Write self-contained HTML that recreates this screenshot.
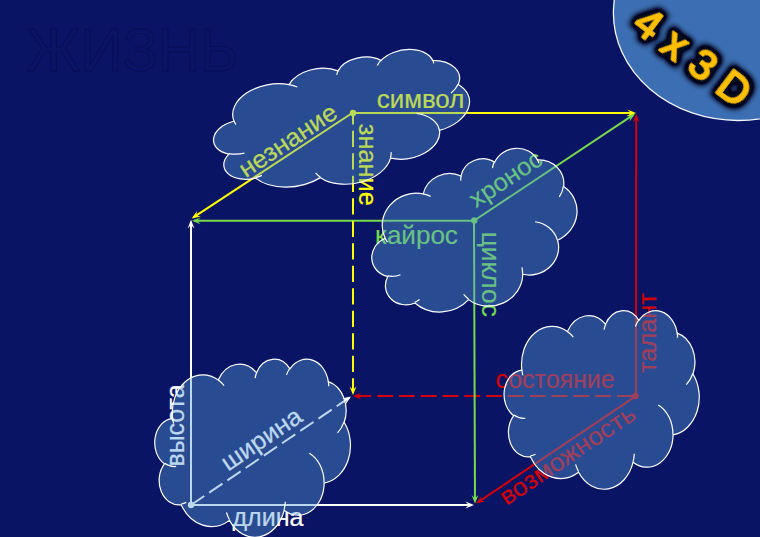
<!DOCTYPE html><html lang="ru"><head><meta charset="utf-8"><title>4 x 3 D</title>
<style>html,body{margin:0;padding:0;background:#0a1464;overflow:hidden}svg{display:block}text{font-family:'Liberation Sans', 'DejaVu Sans', sans-serif}</style></head><body>
<svg width="760" height="537" viewBox="0 0 760 537">
<rect width="760" height="537" fill="#0a1464"/>
<text transform="translate(26.4,71.1) scale(0.9511,1)" font-size="61.5" fill="#0a1464" stroke="#070e54" stroke-width="0.9">ЖИЗНЬ</text>
<g id="lines">
<line x1="636.0" y1="396.0" x2="636.2" y2="115.8" stroke="#d20008" stroke-width="2"/><polygon points="636.2,113.8 639.6,122.4 636.2,119.1 632.8,122.4" fill="#d20008"/>
<line x1="635.5" y1="396.0" x2="354.8" y2="396.1" stroke="#d20008" stroke-width="2" stroke-dasharray="16 5.8" stroke-dashoffset="19.2"/><polygon points="352.8,396.1 361.4,392.7 358.1,396.1 361.4,399.5" fill="#d20008"/>
<line x1="635.5" y1="396.4" x2="477.7" y2="502.4" stroke="#d20008" stroke-width="2"/><polygon points="476.0,503.5 481.2,495.9 480.4,500.5 485.0,501.5" fill="#d20008"/>
<line x1="191.0" y1="505.0" x2="191.0" y2="221.8" stroke="#ffffff" stroke-width="2"/><polygon points="191.0,219.8 194.4,228.4 191.0,225.1 187.6,228.4" fill="#ffffff"/>
<line x1="191.0" y1="505.0" x2="472.0" y2="505.0" stroke="#ffffff" stroke-width="2"/><polygon points="474.0,505.0 465.4,508.4 468.7,505.0 465.4,501.6" fill="#ffffff"/>
<line x1="191.0" y1="505.0" x2="349.3" y2="397.7" stroke="#ffffff" stroke-width="2" stroke-dasharray="16 6" stroke-dashoffset="0"/><polygon points="351.0,396.6 345.8,404.2 346.6,399.6 342.0,398.6" fill="#ffffff"/>
<line x1="474.3" y1="220.8" x2="194.0" y2="220.8" stroke="#76da4c" stroke-width="2"/><polygon points="192.0,220.8 200.6,217.4 197.3,220.8 200.6,224.2" fill="#76da4c"/>
<line x1="474.3" y1="220.5" x2="633.3" y2="114.9" stroke="#76da4c" stroke-width="2"/><polygon points="635.0,113.8 629.7,121.4 630.6,116.7 626.0,115.7" fill="#76da4c"/>
<line x1="474.0" y1="220.5" x2="475.0" y2="501.5" stroke="#76da4c" stroke-width="2"/><polygon points="475.0,503.5 471.6,494.9 475.0,498.2 478.4,494.9" fill="#76da4c"/>
<line x1="353.0" y1="113.0" x2="634.0" y2="113.0" stroke="#ffff00" stroke-width="2"/><polygon points="636.0,113.0 627.4,116.4 630.7,113.0 627.4,109.6" fill="#ffff00"/>
<line x1="353.0" y1="112.5" x2="193.4" y2="217.4" stroke="#ffff00" stroke-width="2"/><polygon points="191.7,218.5 197.0,210.9 196.2,215.6 200.8,216.6" fill="#ffff00"/>
<line x1="353.0" y1="113.0" x2="353.0" y2="393.0" stroke="#ffff00" stroke-width="2" stroke-dasharray="16.4 6.1" stroke-dashoffset="4.8"/><polygon points="353.0,395.0 349.6,386.4 353.0,389.7 356.4,386.4" fill="#ffff00"/>
<circle cx="353" cy="113" r="3.2" fill="#ffff00"/>
<circle cx="474.3" cy="220.5" r="3.2" fill="#76da4c"/>
<circle cx="191" cy="505" r="3.2" fill="#ffffff"/>
<circle cx="635.5" cy="396" r="3.2" fill="#d20008"/>
</g>
<g id="labels">
<text transform="translate(420.5,107.8) rotate(0) scale(1.0343,1)" text-anchor="middle" font-size="25" fill="#ffff00" stroke="#ffff00" stroke-width="0.2">символ</text>
<text transform="translate(292.5,147.5) rotate(-33.4) scale(1.0369,1)" text-anchor="middle" font-size="25" fill="#ffff00" stroke="#ffff00" stroke-width="0.2">незнание</text>
<text transform="translate(359.3,164.8) rotate(90) scale(1.0142,1)" text-anchor="middle" font-size="25" fill="#ffff00" stroke="#ffff00" stroke-width="0.2">знание</text>
<text transform="translate(416.4,243.7) rotate(0) scale(1.0419,1)" text-anchor="middle" font-size="25" fill="#76da4c" stroke="#76da4c" stroke-width="0.2">кайрос</text>
<text transform="translate(510.2,185.8) rotate(-33.5) scale(1.0184,1)" text-anchor="middle" font-size="25" fill="#76da4c" stroke="#76da4c" stroke-width="0.2">хронос</text>
<text transform="translate(482,274.3) rotate(90) scale(1.0523,1)" text-anchor="middle" font-size="25" fill="#76da4c" stroke="#76da4c" stroke-width="0.2">циклос</text>
<text transform="translate(555,387.5) rotate(0) scale(0.9960,1)" text-anchor="middle" font-size="25" fill="#d20008" stroke="#d20008" stroke-width="0.2">состояние</text>
<text transform="translate(656.4,333) rotate(-90) scale(1.0149,1)" text-anchor="middle" font-size="25" fill="#d20008" stroke="#d20008" stroke-width="0.2">талант</text>
<text transform="translate(572,462) rotate(-33.9) scale(1.0512,1)" text-anchor="middle" font-size="25" fill="#d20008" stroke="#d20008" stroke-width="0.2">возможность</text>
<text transform="translate(183.6,425.5) rotate(-90) scale(0.9944,1)" text-anchor="middle" font-size="25" fill="#ffffff" stroke="#ffffff" stroke-width="0.2">высота</text>
<text transform="translate(266,446) rotate(-34.1) scale(1.0268,1)" text-anchor="middle" font-size="25" fill="#ffffff" stroke="#ffffff" stroke-width="0.2">ширина</text>
<text transform="translate(268,526) rotate(0) scale(1.0021,1)" text-anchor="middle" font-size="25" fill="#ffffff" stroke="#ffffff" stroke-width="0.2">длина</text>
</g>
<g id="clouds" fill="#549dd8" fill-opacity="0.4" stroke="#ffffff" stroke-width="1.2">
<g transform="translate(341.9,122.7) rotate(-10) translate(-129.4,-61.5)"><path d="M23.37 40.95A40.47 26.19 0 0 1 41.03 15.63A40.47 26.19 0 0 1 83.93 14.82A31.96 20.71 0 0 1 107.3 4.07A31.96 20.71 0 0 1 134.58 9.78A26.16 16.94 0 0 1 155.52 0.48A26.16 16.94 0 0 1 178.79 7.07A29.11 18.79 0 0 1 208.55 1.07A29.11 18.79 0 0 1 229.64 15.89A31.96 20.72 0 0 1 250.03 26.87A31.96 20.72 0 0 1 250.62 44.05A40.6 26.27 0 0 1 256.02 69.97A40.6 26.27 0 0 1 224.17 86.06A34.67 22.42 0 0 1 206.19 105.53A34.67 22.42 0 0 1 171.14 104.9A40.47 26.26 0 0 1 138.36 123.26A40.47 26.26 0 0 1 98.77 111.88A46.27 30.04 0 0 1 63.28 115.21A46.27 30.04 0 0 1 34.79 101.07A26.13 16.86 0 0 1 8.42 91.93A26.13 16.86 0 0 1 12.67 72.8A26.04 16.94 0 0 1 0.38 54.59A26.04 16.94 0 0 1 23.15 41.33Z"/><path d="M28.13 74.59A26.04 16.94 0 0 1 12.94 72.32M41.52 99.45A26.13 16.86 0 0 1 34.88 100.53M98.75 111.39A40.47 26.26 0 0 1 94.75 106.43M172.76 99.02A40.47 26.26 0 0 1 171.16 104.46M204.54 65.41A34.67 22.42 0 0 1 224.02 85.74M250.5 43.75A31.96 20.72 0 0 1 241.82 51.38M229.68 15.46A29.11 18.79 0 0 1 230.14 19.06M174.27 11.26A29.11 18.79 0 0 1 178.71 6.67M132.69 13.45A26.16 16.94 0 0 1 134.85 9.49M83.9 14.79A40.47 26.19 0 0 1 91.69 18.64M24.73 44.99A40.47 26.19 0 0 1 23.37 40.95" fill="none"/></g>
<g transform="translate(475.0,235.5) rotate(-17.2) translate(-105.8,-72.5)"><path d="M19.11 48.27A33.09 30.87 0 0 1 33.55 18.42A33.09 30.87 0 0 1 68.63 17.47A26.13 24.41 0 0 1 87.74 4.8A26.13 24.41 0 0 1 110.04 11.53A21.39 19.97 0 0 1 127.17 0.56A21.39 19.97 0 0 1 146.2 8.33A23.8 22.15 0 0 1 170.53 1.26A23.8 22.15 0 0 1 187.78 18.73A26.13 24.43 0 0 1 204.44 31.67A26.13 24.43 0 0 1 204.93 51.93A33.2 30.97 0 0 1 209.35 82.47A33.2 30.97 0 0 1 183.3 101.45A28.35 26.42 0 0 1 168.6 124.39A28.35 26.42 0 0 1 139.94 123.65A33.09 30.95 0 0 1 113.14 145.29A33.09 30.95 0 0 1 80.76 131.88A37.83 35.41 0 0 1 51.74 135.8A37.83 35.41 0 0 1 28.45 119.14A21.37 19.88 0 0 1 6.88 108.36A21.37 19.88 0 0 1 10.36 85.81A21.29 19.97 0 0 1 0.31 64.35A21.29 19.97 0 0 1 18.93 48.72Z"/><path d="M23 87.92A21.29 19.97 0 0 1 10.58 85.25M33.95 117.22A21.37 19.88 0 0 1 28.52 118.5M80.75 131.3A33.09 30.95 0 0 1 77.48 125.45M141.27 116.72A33.09 30.95 0 0 1 139.96 123.13M167.25 77.1A28.35 26.42 0 0 1 183.18 101.06M204.83 51.57A26.13 24.43 0 0 1 197.73 60.56M187.81 18.22A23.8 22.15 0 0 1 188.18 22.47M142.5 13.27A23.8 22.15 0 0 1 146.13 7.86M108.5 15.85A21.39 19.97 0 0 1 110.26 11.19M68.61 17.44A33.09 30.87 0 0 1 74.98 21.97M20.22 53.03A33.09 30.87 0 0 1 19.11 48.27" fill="none"/></g>
<g transform="translate(601.7,399.3) rotate(0) translate(-97.5,-89.2)"><path d="M17.6 59.38A30.48 37.97 0 0 1 30.9 22.66A30.48 37.97 0 0 1 63.22 21.49A24.07 30.03 0 0 1 80.82 5.9A24.07 30.03 0 0 1 101.36 14.18A19.7 24.56 0 0 1 117.14 0.69A19.7 24.56 0 0 1 134.66 10.25A21.92 27.25 0 0 1 157.07 1.55A21.92 27.25 0 0 1 172.96 23.04A24.07 30.05 0 0 1 188.32 38.97A24.07 30.05 0 0 1 188.76 63.88A30.58 38.1 0 0 1 192.83 101.46A30.58 38.1 0 0 1 168.84 124.8A26.11 32.51 0 0 1 155.3 153.03A26.11 32.51 0 0 1 128.9 152.11A30.48 38.08 0 0 1 104.21 178.74A30.48 38.08 0 0 1 74.39 162.24A34.85 43.56 0 0 1 47.66 167.06A34.85 43.56 0 0 1 26.2 146.56A19.68 24.45 0 0 1 6.34 133.3A19.68 24.45 0 0 1 9.54 105.56A19.61 24.56 0 0 1 0.28 79.16A19.61 24.56 0 0 1 17.44 59.93Z"/><path d="M21.18 108.16A19.61 24.56 0 0 1 9.75 104.87M31.27 144.2A19.68 24.45 0 0 1 26.27 145.78M74.38 161.52A30.48 38.08 0 0 1 71.37 154.33M130.12 143.59A30.48 38.08 0 0 1 128.92 151.48M154.05 94.84A26.11 32.51 0 0 1 168.73 124.33M188.67 63.44A24.07 30.05 0 0 1 182.14 74.5M172.99 22.42A21.92 27.25 0 0 1 173.34 27.64M131.25 16.33A21.92 27.25 0 0 1 134.6 9.67M99.94 19.5A19.7 24.56 0 0 1 101.56 13.76M63.19 21.45A30.48 37.97 0 0 1 69.06 27.02M18.63 65.24A30.48 37.97 0 0 1 17.6 59.38" fill="none"/></g>
<g transform="translate(252.7,447.6) rotate(0) translate(-97.8,-89.0)"><path d="M17.65 59.21A30.56 37.87 0 0 1 30.98 22.6A30.56 37.87 0 0 1 63.38 21.43A24.13 29.94 0 0 1 81.03 5.89A24.13 29.94 0 0 1 101.62 14.14A19.75 24.5 0 0 1 117.44 0.69A19.75 24.5 0 0 1 135.01 10.22A21.98 27.17 0 0 1 157.48 1.55A21.98 27.17 0 0 1 173.41 22.98A24.13 29.97 0 0 1 188.8 38.86A24.13 29.97 0 0 1 189.25 63.7A30.66 37.99 0 0 1 193.33 101.17A30.66 37.99 0 0 1 169.27 124.45A26.18 32.41 0 0 1 155.7 152.6A26.18 32.41 0 0 1 129.23 151.68A30.56 37.97 0 0 1 104.48 178.24A30.56 37.97 0 0 1 74.58 161.78A34.94 43.44 0 0 1 47.78 166.59A34.94 43.44 0 0 1 26.27 146.15A19.73 24.38 0 0 1 6.36 132.92A19.73 24.38 0 0 1 9.56 105.27A19.66 24.5 0 0 1 0.28 78.94A19.66 24.5 0 0 1 17.48 59.76Z"/><path d="M21.24 107.86A19.66 24.5 0 0 1 9.77 104.57M31.35 143.8A19.73 24.38 0 0 1 26.34 145.37M74.57 161.07A30.56 37.97 0 0 1 71.55 153.9M130.46 143.19A30.56 37.97 0 0 1 129.25 151.05M154.45 94.58A26.18 32.41 0 0 1 169.16 123.98M189.16 63.26A24.13 29.97 0 0 1 182.6 74.29M173.43 22.36A21.98 27.17 0 0 1 173.78 27.56M131.59 16.28A21.98 27.17 0 0 1 134.95 9.64M100.2 19.45A19.75 24.5 0 0 1 101.82 13.72M63.36 21.39A30.56 37.87 0 0 1 69.24 26.95M18.68 65.06A30.56 37.87 0 0 1 17.65 59.21" fill="none"/></g>
</g>
<ellipse cx="738" cy="13" rx="124.6" ry="107.5" fill="#3b6eb3" stroke="#f4f7fc" stroke-width="1.3"/>
<defs><filter id="glow" x="-20%" y="-40%" width="140%" height="180%"><feMorphology in="SourceAlpha" operator="dilate" radius="3" result="m"/><feGaussianBlur in="m" stdDeviation="3.2" result="b"/><feFlood flood-color="#040a1c"/><feComposite in2="b" operator="in" result="g"/><feComponentTransfer in="g" result="g2"><feFuncA type="linear" slope="2.2"/></feComponentTransfer><feMerge><feMergeNode in="g2"/><feMergeNode in="SourceGraphic"/></feMerge></filter></defs>
<text transform="translate(630.6,28.3) rotate(37)" font-size="42" fill="#ffc000" stroke="#ffc000" stroke-width="1.5" stroke-linejoin="round" filter="url(#glow)" xml:space="preserve" textLength="134" lengthAdjust="spacing">4 x 3 D</text>
</svg></body></html>
